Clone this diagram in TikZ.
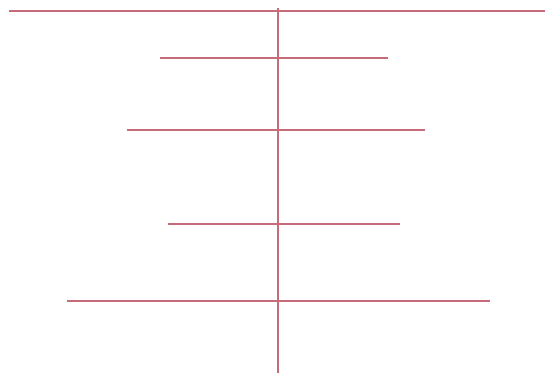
\documentclass[tikz,border=0pt]{standalone}
\usepackage{xcolor}
\usepackage{tikz}
\usetikzlibrary{positioning}
\definecolor{linered}{rgb}{0.78,0.42,0.48}
\tikzset{
  redline/.style={draw=linered,line width=1.4pt},
  spine/.style={draw=linered,line width=1.3pt}
}

\begin{document}
\begin{tikzpicture}[x=1pt,y=-1pt]
  \useasboundingbox (0,0) rectangle (545,379);
  \coordinate (topL) at (9,11);
  \coordinate (topR) at (545,11);
  \coordinate (r1L) at (160,58);
  \coordinate (r1R) at (388,58);
  \coordinate (r2L) at (127,130);
  \coordinate (r2R) at (425,130);
  \coordinate (r3L) at (168,224);
  \coordinate (r3R) at (400,224);
  \coordinate (r4L) at (67,301);
  \coordinate (r4R) at (490,301);
  \coordinate (spTop) at (278,8);
  \coordinate (spBot) at (278,373);

  \draw[redline] (topL) -- (topR);
  \draw[redline] (r1L) -- (r1R);
  \draw[redline] (r2L) -- (r2R);
  \draw[redline] (r3L) -- (r3R);
  \draw[redline] (r4L) -- (r4R);
  \draw[spine] (spTop) -- (spBot);
\end{tikzpicture}
\end{document}
